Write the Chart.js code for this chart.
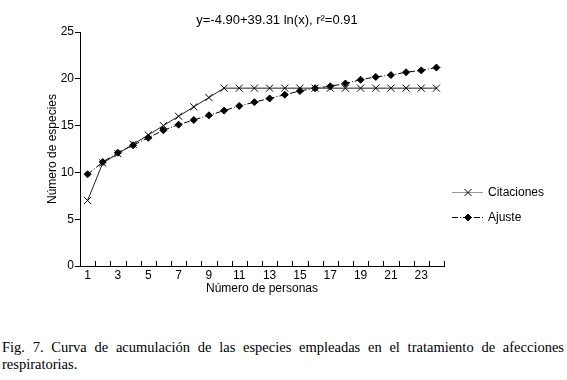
<!DOCTYPE html>
<html>
<head>
<meta charset="utf-8">
<script src="https://cdn.jsdelivr.net/npm/chart.js@4.4.1/dist/chart.umd.min.js"></script>
<style>
  html, body { margin: 0; padding: 0; background: #fff; }
  #wrap { position: relative; width: 567px; height: 300px; }
  #caption {
    position: absolute; left: 2px; top: 339px; width: 562px;
    font-family: "Liberation Serif", "Times New Roman", serif;
    font-size: 14.5px; line-height: 17px; color: #000;
    text-align: justify; text-align-last: left;
  }
</style>
</head>
<body>
<div id="wrap"><canvas id="myChart" width="567" height="300"></canvas></div>
<div id="caption">Fig. 7. Curva de acumulación de las especies empleadas en el tratamiento de afecciones respiratorias.</div>
<script>
const personas = [1, 2, 3, 4, 5, 6, 7, 8, 9, 10, 11, 12, 13, 14, 15, 16, 17, 18, 19, 20, 21, 22, 23, 24];
const citaciones = [7, 11, 12, 13, 14, 15, 16, 17, 18, 19, 19, 19, 19, 19, 19, 19, 19, 19, 19, 19, 19, 19, 19, 19];
const ajuste = [9.8, 11.1, 12.1, 12.9, 13.7, 14.5, 15.1, 15.6, 16.1, 16.6, 17.1, 17.5, 17.9, 18.3, 18.7, 19.0, 19.2, 19.5, 19.9, 20.2, 20.4, 20.7, 20.9, 21.2];
const xTickLabels = [1, 3, 5, 7, 9, 11, 13, 15, 17, 19, 21, 23];
const tituloTexto = 'y=-4.90+39.31 ln(x), r²=0.91';

const fontSans = '"Liberation Sans", Arial, sans-serif';

// dibuja titulo, marcas del eje x y la leyenda
const extras = {
    id: 'extras',
    afterDraw(chart) {
        const ctx = chart.ctx;
        const xs = chart.scales.x;
        const bottom = chart.chartArea.bottom;
        ctx.save();
        ctx.strokeStyle = '#000';
        ctx.lineWidth = 1;
        for (let i = 1; i <= personas.length; i++) {
            const px = Math.round(xs.getPixelForValue(i + 0.5)) + 0.5;
            ctx.beginPath();
            ctx.moveTo(px, bottom);
            ctx.lineTo(px, bottom - 5);
            ctx.stroke();
        }

        ctx.fillStyle = '#000';
        ctx.font = '13px ' + fontSans;
        ctx.textAlign = 'center';
        ctx.textBaseline = 'middle';
        ctx.fillText(tituloTexto, 277, 20);

        // leyenda
        const ys = [192, 217];
        chart.data.datasets.forEach((ds, k) => {
            const y = ys[k] + 0.5;
            ctx.save();
            ctx.strokeStyle = k === 0 ? '#999' : '#000';
            ctx.setLineDash(ds.borderDash || []);
            ctx.beginPath();
            ctx.moveTo(452, y);
            ctx.lineTo(483, y);
            ctx.stroke();
            ctx.restore();
            ctx.strokeStyle = '#000';
            ctx.fillStyle = '#000';
            Chart.helpers.drawPoint(ctx, {
                pointStyle: ds.pointStyle,
                radius: ds.pointRadius,
                rotation: 0,
                borderWidth: 1
            }, 468, y);
            ctx.fillStyle = '#000';
            ctx.font = '12px ' + fontSans;
            ctx.textAlign = 'left';
            ctx.fillText(ds.label, 488, y);
        });
        ctx.restore();
    }
};

new Chart(document.getElementById('myChart'), {
    type: 'line',
    data: {
        datasets: [{
            label: 'Citaciones',
            data: personas.map((p, i) => ({ x: p, y: citaciones[i] })),
            borderColor: '#222',
            borderWidth: 1,
            pointStyle: 'crossRot',
            pointRadius: 5,
            pointBorderColor: '#000',
            pointBorderWidth: 1,
            pointBackgroundColor: '#000',
            tension: 0
        }, {
            label: 'Ajuste',
            data: personas.map((p, i) => ({ x: p, y: ajuste[i] })),
            borderColor: '#000',
            borderWidth: 1,
            borderDash: [6, 2, 1, 2],
            pointStyle: 'rectRot',
            pointRadius: 3.5,
            pointBorderColor: '#000',
            pointBackgroundColor: '#000',
            tension: 0
        }]
    },
    options: {
        responsive: false,
        animation: false,
        layout: { padding: { top: 32, right: 123, left: 45, bottom: 4 } },
        plugins: {
            legend: { display: false },
            title: { display: false },
            tooltip: { enabled: false }
        },
        scales: {
            x: {
                type: 'linear',
                min: 0.5,
                max: 24.5,
                afterBuildTicks: (scale) => { scale.ticks = xTickLabels.map(v => ({ value: v })); },
                afterFit: (scale) => { scale.height = 30; },
                grid: { display: false, drawTicks: false },
                border: { color: '#000', width: 1 },
                ticks: { color: '#000', font: { family: fontSans, size: 12 }, padding: 2, maxRotation: 0, autoSkip: false },
                title: { display: true, text: 'Número de personas', color: '#000', font: { family: fontSans, size: 12 }, padding: { top: 0, bottom: 0 } }
            },
            y: {
                min: 0,
                max: 25,
                afterFit: (scale) => { scale.width = 35; },
                grid: { drawOnChartArea: false, color: '#000', tickLength: 5 },
                border: { color: '#000', width: 1 },
                ticks: { stepSize: 5, color: '#000', font: { family: fontSans, size: 12 }, padding: 1 },
                title: { display: true, text: 'Número de especies', color: '#000', font: { family: fontSans, size: 12 }, padding: { top: 0, bottom: 0 } }
            }
        }
    },
    plugins: [extras]
});
</script>
</body>
</html>
